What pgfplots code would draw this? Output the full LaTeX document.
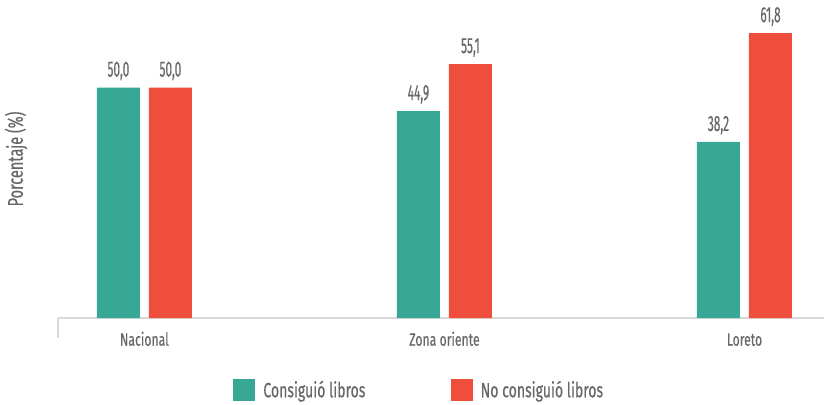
\documentclass[border=0pt]{standalone}
\usepackage{fontspec}
\setmainfont{Fira Sans}[FakeStretch=0.68, FakeBold=0.4]
\newfontfamily\numfont{Fira Sans}[FakeStretch=0.54, FakeBold=0.4]
\usepackage{pgfplots}
\pgfplotsset{compat=1.18}
\definecolor{teal1}{HTML}{37A895}
\definecolor{red1}{HTML}{EF4E3D}
\definecolor{txt}{HTML}{66676A}
\definecolor{axl}{HTML}{D9D9D9}
\begin{document}
\begin{tikzpicture}
\begin{axis}[
  name=ax, at={(0,0)}, anchor=south west,
  scale only axis, width=574.5pt, height=238.5pt,
  ymin=0, ymax=69, xmin=-0.288, xmax=2.265,
  ybar=6.75pt, bar width=32.25pt,
  /pgf/number format/assume math mode=true,
  axis x line*=bottom, axis y line*=left,
  x axis line style={draw=axl, line width=1.5pt, -},
  y axis line style={draw=none},
  ytick=\empty,
  xtick={0,1,2}, xticklabels={Nacional, Zona oriente, Loreto},
  major tick length=0pt,
  xticklabel style={font=\fontsize{13.5}{14}\selectfont, text=txt, anchor=base, yshift=-20.8pt},
  ylabel={Porcentaje (\%)},
  ylabel style={at={(rel axis cs:-0.0548,0.5)}, anchor=center, font=\fontsize{16}{17}\selectfont, text=txt},
  nodes near coords={\pgfmathprintnumber[fixed,fixed zerofill,precision=1,use comma]{\pgfplotspointmeta}},
  every node near coord/.append style={font=\numfont\fontsize{16.5}{17}\selectfont, text=txt, anchor=base, inner sep=0pt, yshift=8.25pt},
  clip=false,
  legend columns=2,
  legend style={at={(rel axis cs:0.472,-0.2264)}, anchor=center, draw=none, fill=none,
    font=\fontsize{15.5}{16}\selectfont, text=txt,
    /tikz/every odd column/.append style={column sep=4pt},
    /tikz/every even column/.append style={column sep=62pt}},
]
\addplot[fill=teal1, draw=none, legend image code/.code={\fill[teal1] (0pt,-8.25pt) rectangle (16.5pt,8.25pt);}]
  coordinates {(0,50.0) (1,44.9) (2,38.2)};
\addlegendentry{Consiguió libros}
\addplot[fill=red1, draw=none, legend image code/.code={\fill[red1] (0pt,-8.25pt) rectangle (16.5pt,8.25pt);}]
  coordinates {(0,50.0) (1,55.1) (2,61.8)};
\addlegendentry{No consiguió libros}
\draw[axl, line width=1.5pt] (rel axis cs:0,0) -- ++(0pt,-15pt);
\end{axis}
\pgfresetboundingbox
\path (ax.south west) ++(-43.5pt,-64.5pt) rectangle ++(618pt,303pt);
\end{tikzpicture}
\end{document}
